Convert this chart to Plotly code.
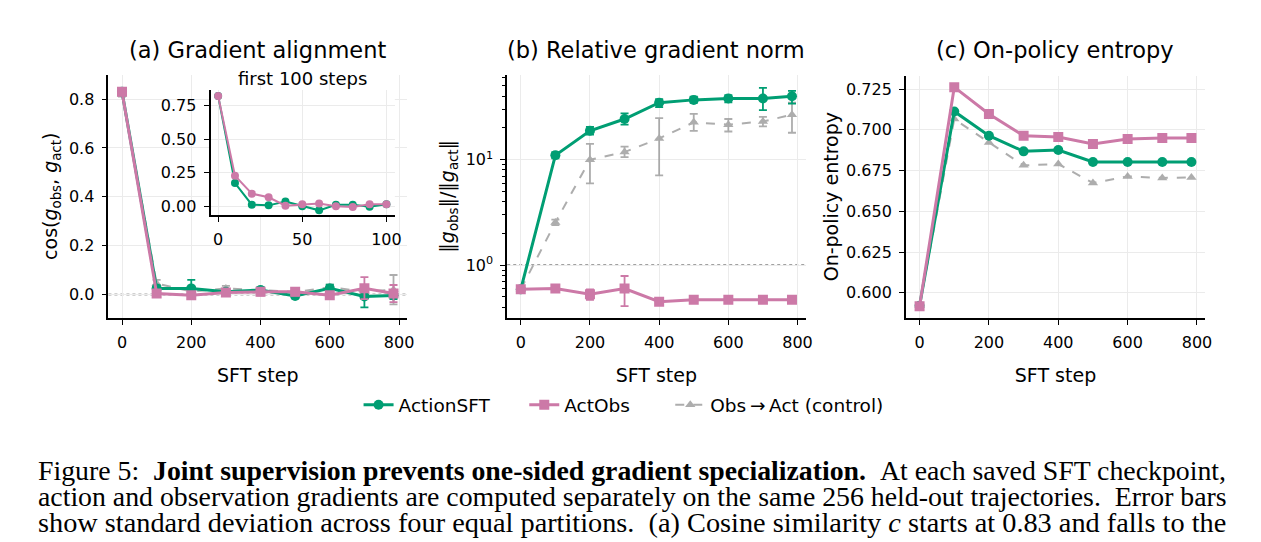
import plotly.graph_objects as go

GREEN = "#009E73"
PINK = "#CC79A7"
GRAY = "#999999"

# SFT checkpoints
steps = [0, 100, 200, 300, 400, 500, 600, 700, 784]
inset_steps = [0, 10, 20, 30, 40, 50, 60, 70, 80, 90, 100]

# (a) cosine similarity cos(g_obs, g_act)
cos_actionsft = [0.83, 0.025, 0.025, 0.011, 0.018, -0.006, 0.025, -0.008, -0.004]
cos_actionsft_err = [0.01, 0.012, 0.035, 0.008, 0.012, 0.010, 0.015, 0.045, 0.015]
cos_actobs = [0.83, 0.004, -0.003, 0.008, 0.011, 0.011, -0.003, 0.026, 0.004]
cos_actobs_err = [0.01, 0.010, 0.012, 0.010, 0.015, 0.015, 0.012, 0.045, 0.035]
cos_control = [0.82, 0.045, 0.012, 0.025, 0.018, 0.010, 0.030, 0.012, 0.020]
cos_control_err = [0.01, 0.015, 0.010, 0.010, 0.010, 0.010, 0.010, 0.010, 0.060]

# inset: first 100 steps
inset_actionsft = [0.82, 0.173, 0.012, 0.007, 0.035, 0.0, -0.03, 0.012, 0.012, -0.003, 0.015]
inset_actobs = [0.82, 0.228, 0.094, 0.067, 0.005, 0.015, 0.02, 0.0, -0.005, 0.015, 0.015]

# (b) relative gradient norm ||g_obs|| / ||g_act||  (value, upper, lower)
norm_actionsft = [0.59, 11.0, 18.8, 24.3, 34.7, 36.9, 38.0, 38.0, 40.0]
norm_actionsft_hi = [0.62, 11.8, 20.5, 27.5, 37.5, 39.5, 41.0, 48.0, 45.0]
norm_actionsft_lo = [0.56, 10.3, 17.3, 21.5, 31.5, 34.5, 35.0, 29.5, 34.0]
norm_actobs = [0.59, 0.60, 0.53, 0.60, 0.45, 0.47, 0.47, 0.47, 0.47]
norm_actobs_hi = [0.62, 0.63, 0.59, 0.79, 0.47, 0.50, 0.49, 0.49, 0.50]
norm_actobs_lo = [0.56, 0.57, 0.47, 0.41, 0.43, 0.44, 0.45, 0.45, 0.44]
norm_control = [0.59, 2.54, 10.0, 11.8, 15.9, 22.6, 21.5, 23.0, 26.7]
norm_control_hi = [0.60, 2.7, 14.1, 13.3, 24.8, 27.2, 24.3, 25.5, 34.7]
norm_control_lo = [0.58, 2.4, 5.96, 10.6, 7.1, 18.8, 18.5, 20.7, 18.0]

# (c) on-policy entropy
ent_actionsft = [0.592, 0.7113, 0.6964, 0.6868, 0.6876, 0.6803, 0.6803, 0.6803, 0.6803]
ent_actobs = [0.5918, 0.7262, 0.7097, 0.6964, 0.6956, 0.6913, 0.6944, 0.695, 0.695]
ent_control = [0.592, 0.7066, 0.6923, 0.6782, 0.679, 0.6674, 0.6714, 0.6705, 0.6708]

FONT = "DejaVu Sans"
W, H = 1261, 542
OFF = 8  # page body margin

def px_x(p):
    return (p - OFF) / W

def px_y(p):
    return 1 - (p - OFF) / H

def err(vals, hi, lo):
    plus = [h - v for v, h in zip(vals, hi)]
    minus = [v - l for v, l in zip(vals, lo)]
    return plus, minus

NB = "\u00a0"
CONTROL = "Obs\u2009\u2192\u2009Act (control)"
series = [
    # key, legend label, color, symbol, dash, opacity, legend rank
    ("control", CONTROL, GRAY, "triangle-up", "dash", 0.8, 3),
    ("actionsft", "ActionSFT" + NB * 5, GREEN, "circle", "solid", 1.0, 1),
    ("actobs", "ActObs" + NB * 6, PINK, "square", "solid", 1.0, 2),
]
cos_data = {"actionsft": (cos_actionsft, cos_actionsft_err),
            "actobs": (cos_actobs, cos_actobs_err),
            "control": (cos_control, cos_control_err)}
norm_data = {"actionsft": (norm_actionsft, norm_actionsft_hi, norm_actionsft_lo),
             "actobs": (norm_actobs, norm_actobs_hi, norm_actobs_lo),
             "control": (norm_control, norm_control_hi, norm_control_lo)}
ent_data = {"actionsft": ent_actionsft, "actobs": ent_actobs, "control": ent_control}

fig = go.Figure()

for key, name, color, symbol, dash, op, rank in series:
    lw = 2.0 if dash == "dash" else 3.0
    ms = 9 if symbol == "triangle-up" else 10
    common = dict(mode="lines+markers", name=name, opacity=op, legendrank=rank,
                  line=dict(color=color, width=lw, dash=dash),
                  marker=dict(color=color, symbol=symbol, size=ms))
    y, e = cos_data[key]
    fig.add_trace(go.Scatter(x=steps, y=y, xaxis="x", yaxis="y", showlegend=True,
                             error_y=dict(type="data", array=e, color=color, thickness=1.8, width=4),
                             **common))
    y, hi, lo = norm_data[key]
    plus, minus = err(y, hi, lo)
    fig.add_trace(go.Scatter(x=steps, y=y, xaxis="x2", yaxis="y2", showlegend=False,
                             error_y=dict(type="data", symmetric=False, array=plus, arrayminus=minus,
                                          color=color, thickness=1.8, width=4),
                             **common))
    fig.add_trace(go.Scatter(x=steps, y=ent_data[key], xaxis="x3", yaxis="y3", showlegend=False,
                             **common))

for y, color in [(inset_actionsft, GREEN), (inset_actobs, PINK)]:
    fig.add_trace(go.Scatter(x=inset_steps, y=y, xaxis="x4", yaxis="y4", mode="lines+markers",
                             showlegend=False, line=dict(color=color, width=2),
                             marker=dict(color=color, size=8)))

axis_common = dict(showline=True, linecolor="black", linewidth=1.8, ticks="outside",
                   ticklen=5, tickwidth=1.3, tickcolor="black", zeroline=False,
                   showgrid=True, gridcolor="#ebebeb", gridwidth=1, ticklabelstandoff=4,
                   tickfont=dict(family=FONT, size=16, color="black"))
label_font = dict(family=FONT, size=19, color="black")
xtitle = dict(text="SFT step", font=label_font, standoff=18)

fig.update_layout(
    width=W, height=H, margin=dict(l=0, r=0, t=0, b=0),
    paper_bgcolor="white", plot_bgcolor="white",
    font=dict(family=FONT, color="black"),
    xaxis=dict(domain=[px_x(109), px_x(409.3)], range=[-39.2, 823.2], anchor="y",
               tickvals=[0, 200, 400, 600, 800], title=xtitle, **axis_common),
    yaxis=dict(domain=[px_y(318.3), px_y(75)], range=[-0.095, 0.899], anchor="x",
               tickvals=[0, 0.2, 0.4, 0.6, 0.8], tickformat=".1f",
               title=dict(text="cos(<i>g</i><sub>obs</sub>, <i>g</i><sub>act</sub>)",
                          font=label_font, standoff=6),
               **axis_common),
    xaxis2=dict(domain=[px_x(510), px_x(810)], range=[-39.2, 823.2], anchor="y2",
                tickvals=[0, 200, 400, 600, 800], title=xtitle, **axis_common),
    yaxis2=dict(domain=[px_y(318.3), px_y(75)], type="log", range=[-0.498, 1.804], anchor="x2",
                tickvals=[1, 10], ticktext=["10<sup>0</sup>", "10<sup>1</sup>"],
                minor=dict(ticks="outside", ticklen=3, tickwidth=1, tickcolor="black", showgrid=False,
                           tickvals=[0.4, 0.5, 0.6, 0.7, 0.8, 0.9, 2, 3, 4, 5, 6, 7, 8, 9,
                                     20, 30, 40, 50, 60]),
                title=dict(text="\u2016<i>g</i><sub>obs</sub>\u2016/\u2016<i>g</i><sub>act</sub>\u2016",
                           font=label_font, standoff=6),
                **axis_common),
    xaxis3=dict(domain=[px_x(911), px_x(1211.7)], range=[-39.2, 823.2], anchor="y3",
                tickvals=[0, 200, 400, 600, 800], title=xtitle, **axis_common),
    yaxis3=dict(domain=[px_y(318.3), px_y(75.7)], range=[0.5847, 0.7333], anchor="x3",
                tickvals=[0.6, 0.625, 0.65, 0.675, 0.7, 0.725], tickformat=".3f",
                title=dict(text="On-policy entropy", font=label_font, standoff=2),
                **axis_common),
    xaxis4=dict(domain=[px_x(211.7), px_x(397)], range=[-4.5, 105], anchor="y4",
                tickvals=[0, 50, 100], **axis_common),
    yaxis4=dict(domain=[px_y(215.7), px_y(90)], range=[-0.067, 0.866], anchor="x4",
                tickvals=[0, 0.25, 0.5, 0.75], tickformat=".2f", **axis_common),
    legend=dict(orientation="h", x=px_x(627), xanchor="center", y=px_y(406), yanchor="middle",
                font=dict(family=FONT, size=18.5, color="black"), bgcolor="rgba(0,0,0,0)",
                traceorder="normal"),
)

# dotted reference lines
for xr, yr, yv in [("x", "y", 0), ("x4", "y4", 0), ("x2", "y2", 1)]:
    fig.add_shape(type="line", xref=xr + " domain", yref=yr, x0=0, x1=1, y0=yv, y1=yv,
                  line=dict(color="#444444", width=1.5, dash="dot"), layer="below")

titles = [("(a) Gradient alignment", 259), ("(b) Relative gradient norm", 660),
          ("(c) On-policy entropy", 1061)]
for text, cx in titles:
    fig.add_annotation(text=text, x=px_x(cx), y=px_y(50), xref="paper", yref="paper",
                       xanchor="center", yanchor="middle", showarrow=False,
                       font=dict(family=FONT, size=22.5, color="black"))
fig.add_annotation(text="first 100 steps", x=px_x(304), y=px_y(79), xref="paper", yref="paper",
                   xanchor="center", yanchor="middle", showarrow=False,
                   font=dict(family=FONT, size=18, color="black"))

caption = [
    "Figure 5:" + NB * 2 + "<b>Joint supervision prevents one-sided gradient specialization.</b>"
    + NB * 2 + "At each saved SFT checkpoint,",
    "action and observation gradients are computed separately on the same 256 held-out "
    "trajectories." + NB * 2 + "Error bars",
    "show standard deviation across four equal partitions." + NB * 2
    + "(a) Cosine similarity <i>c</i> starts at 0.83 and falls to the",
]
caption_sizes = [27.8, 27.8, 28.3]
for i, line in enumerate(caption):
    fig.add_annotation(text=line, x=px_x(36), y=px_y(471 + 26 * i), xref="paper", yref="paper",
                       xanchor="left", yanchor="middle", showarrow=False,
                       font=dict(family="Liberation Serif", size=caption_sizes[i], color="black"))

fig.write_html("out.html")
